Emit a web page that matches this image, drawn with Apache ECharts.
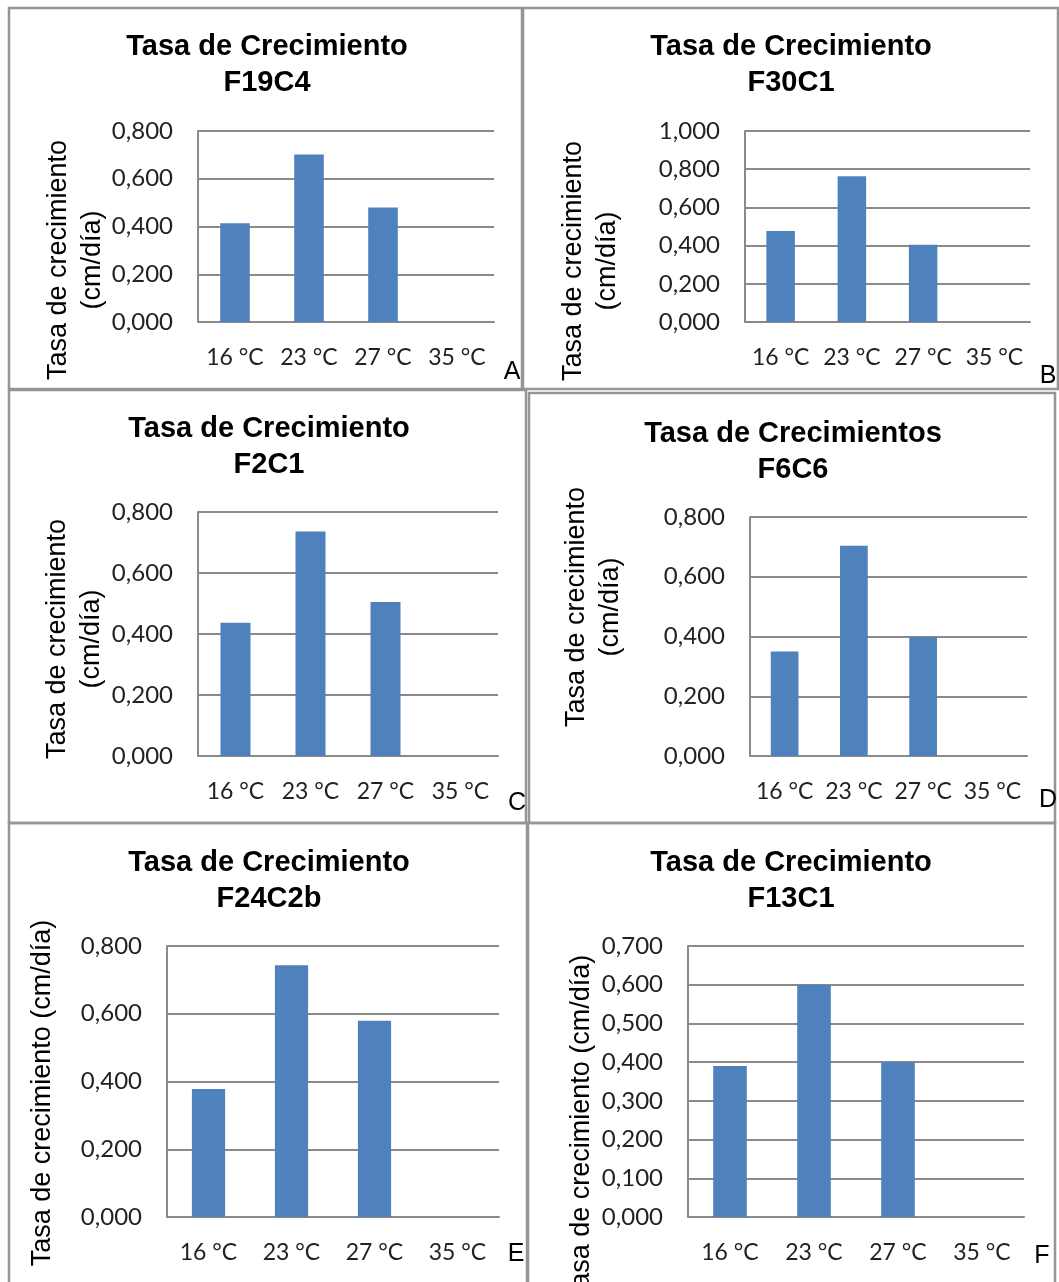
<!DOCTYPE html>
<html>
<head>
<meta charset="utf-8">
<script src="https://cdn.jsdelivr.net/npm/echarts@6/dist/echarts.min.js"></script>
<style>
  html, body { margin: 0; padding: 0; background: #ffffff; }
  #chart { width: 1059px; height: 1282px; }
</style>
</head>
<body>
<div id="chart"></div>
<script>
// Temperature categories shared by every panel
const categories = ['16 °C', '23 °C', '27 °C', '35 °C'];

// Growth rate (cm/día) per culture
const rateF19C4  = [0.414, 0.702, 0.480, 0];
const rateF30C1  = [0.477, 0.763, 0.404, 0];
const rateF2C1   = [0.437, 0.736, 0.505, 0];
const rateF6C6   = [0.350, 0.704, 0.398, 0];
const rateF24C2b = [0.378, 0.743, 0.579, 0];
const rateF13C1  = [0.390, 0.600, 0.400, 0];

// Panel headings, letters and value-axis ranges
const cultureNames = ['F19C4', 'F30C1', 'F2C1', 'F6C6', 'F24C2b', 'F13C1'];
const headingTexts = ['Tasa de Crecimiento', 'Tasa de Crecimiento', 'Tasa de Crecimiento',
                      'Tasa de Crecimientos', 'Tasa de Crecimiento', 'Tasa de Crecimiento'];
const panelLetters = ['A', 'B', 'C', 'D', 'E', 'F'];
const yMaxValues   = [0.8, 1.0, 0.8, 0.8, 0.8, 0.7];
const yStepValues  = [0.2, 0.2, 0.2, 0.2, 0.2, 0.1];
const yAxisTitles  = ['Tasa de crecimiento\n(cm/día)', 'Tasa de crecimiento\n(cm/día)',
                      'Tasa de crecimiento\n(cm/día)', 'Tasa de crecimiento\n(cm/día)',
                      'Tasa de crecimiento (cm/día)', 'Tasa de crecimiento (cm/día)'];
const panelSeries  = [rateF19C4, rateF30C1, rateF2C1, rateF6C6, rateF24C2b, rateF13C1];

// Page layout (pixels)
const frames = [
  { x: 9,   y: 8,   w: 513, h: 381 },
  { x: 523, y: 8,   w: 535, h: 381 },
  { x: 9,   y: 390, w: 517, h: 433 },
  { x: 529, y: 393, w: 526, h: 430 },
  { x: 9,   y: 823, w: 518, h: 480 },
  { x: 528, y: 823, w: 527, h: 480 }
];
const plots = [
  { l: 198, t: 131, r: 494,  b: 322 },
  { l: 745, t: 131, r: 1030, b: 322 },
  { l: 198, t: 512, r: 498,  b: 756 },
  { l: 750, t: 517, r: 1027, b: 756 },
  { l: 167, t: 946, r: 499,  b: 1217 },
  { l: 688, t: 946, r: 1024, b: 1217 }
];
const headingPos = [[267, 29], [791, 29], [269, 411], [793, 416], [269, 845], [791, 845]];
const yTitlePos  = [[76, 260], [591, 261], [75, 639], [594, 607], [43, 1093], [582, 1128]];
const letterPos  = [[512, 372], [1048, 376], [517, 803], [1048, 800], [516, 1254], [1042, 1256]];

const GRID_COLOR = '#8a8a8a';
const BAR_COLOR = '#4f81bd';
const LABEL_FONT = 'Lato, "Open Sans", sans-serif';
const ARIAL = '"Liberation Sans", Arial, sans-serif';

const fmt = v => v.toFixed(3).replace('.', ',');

const grid = [], xAxis = [], yAxis = [], series = [], title = [], graphic = [];

plots.forEach((p, i) => {
  grid.push({
    left: p.l, top: p.t, width: p.r - p.l, height: p.b - p.t,
    containLabel: false, outerBoundsMode: 'none'
  });
  xAxis.push({
    type: 'category', gridIndex: i, data: categories,
    axisLine: { show: true, lineStyle: { color: GRID_COLOR, width: 2 } },
    axisTick: { show: false },
    axisLabel: { fontFamily: LABEL_FONT, fontSize: 23, color: '#222', margin: 24, interval: 0 }
  });
  yAxis.push({
    type: 'value', gridIndex: i, min: 0, max: yMaxValues[i], interval: yStepValues[i],
    axisLine: { show: true, lineStyle: { color: GRID_COLOR, width: 2 } },
    axisTick: { show: false },
    splitLine: { show: true, lineStyle: { color: GRID_COLOR, width: 2 } },
    axisLabel: { fontFamily: LABEL_FONT, fontSize: 24, color: '#222', margin: 25, formatter: fmt }
  });
  series.push({
    type: 'bar', name: cultureNames[i], xAxisIndex: i, yAxisIndex: i,
    data: panelSeries[i], barWidth: '40%',
    itemStyle: { color: BAR_COLOR },
    silent: true, animation: false
  });
  title.push({
    text: headingTexts[i] + '\n' + cultureNames[i],
    left: headingPos[i][0], top: headingPos[i][1], textAlign: 'center', padding: 0,
    textStyle: { fontFamily: ARIAL, fontSize: 29, fontWeight: 'bold', lineHeight: 36, color: '#000' }
  });

  const f = frames[i];
  graphic.push({
    type: 'rect', silent: true,
    shape: { x: f.x, y: f.y, width: f.w, height: f.h },
    style: { fill: 'none', stroke: '#959595', lineWidth: 2.5 }
  });
  graphic.push({
    type: 'text', silent: true,
    x: yTitlePos[i][0], y: yTitlePos[i][1], rotation: Math.PI / 2,
    style: {
      text: yAxisTitles[i], fontFamily: ARIAL, fontSize: 27, lineHeight: 34, fill: '#000',
      align: 'center', verticalAlign: 'middle'
    }
  });
  graphic.push({
    type: 'text', silent: true,
    x: letterPos[i][0], y: letterPos[i][1],
    style: {
      text: panelLetters[i], fontFamily: ARIAL, fontSize: 25, fill: '#000',
      align: 'center', verticalAlign: 'middle'
    }
  });
});

const chart = echarts.init(document.getElementById('chart'), null, { renderer: 'canvas' });
chart.setOption({
  backgroundColor: '#ffffff',
  animation: false,
  title, grid, xAxis, yAxis, series, graphic
});
</script>
</body>
</html>
